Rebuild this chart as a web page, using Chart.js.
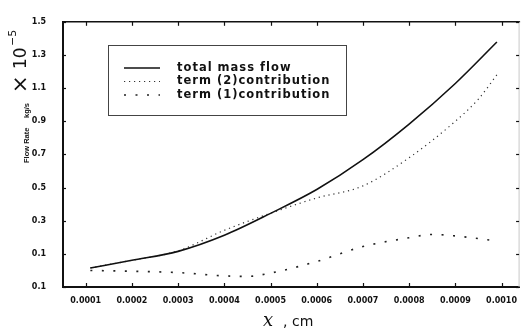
<!DOCTYPE html>
<html>
<head>
<meta charset="utf-8">
<script src="https://cdn.jsdelivr.net/npm/chart.js@4"></script>
<style>
  html, body { margin: 0; padding: 0; background: #fff; }
  #wrap { width: 526px; height: 331px; }
</style>
</head>
<body>
<div id="wrap"><canvas id="flow-chart" width="526" height="331"></canvas></div>
<script>
// === flow rate vs. x ===

const xTicks = [0.0001, 0.0002, 0.0003, 0.0004, 0.0005, 0.0006, 0.0007, 0.0008, 0.0009, 0.0010];
const xTickLabels = ['0.0001', '0.0002', '0.0003', '0.0004', '0.0005', '0.0006', '0.0007', '0.0008', '0.0009', '0.0010'];
const yTicks = [-0.1, 0.1, 0.3, 0.5, 0.7, 0.9, 1.1, 1.3, 1.5];
const yTickLabels = ['0.1', '0.1', '0.3', '0.5', '0.7', '0.9', '1.1', '1.3', '1.5'];

// total mass flow
const totalX = [0.00011, 0.0002, 0.0003, 0.0004, 0.0005, 0.0006, 0.0007, 0.0008, 0.0009, 0.00099];
const totalFlow = [0.015, 0.061, 0.115, 0.212, 0.344, 0.488, 0.668, 0.883, 1.128, 1.378];

// term (2) contribution
const term2X = [0.00011, 0.0002, 0.0003, 0.0004, 0.0005, 0.0006, 0.0007, 0.0008, 0.0009, 0.00095, 0.00099];
const term2Flow = [0.015, 0.061, 0.118, 0.242, 0.345, 0.437, 0.51, 0.68, 0.9, 1.034, 1.18];

// term (1) contribution
const term1X = [0.00011, 0.0002, 0.0003, 0.0004, 0.00045, 0.0005, 0.0006, 0.0007, 0.0008, 0.00085, 0.0009, 0.00099];
const term1Flow = [0.0, -0.005, -0.013, -0.033, -0.036, -0.016, 0.054, 0.144, 0.197, 0.217, 0.208, 0.178];

const legendLabels = ['total mass flow', 'term (2)contribution', 'term (1)contribution'];

const INK = '#111';
const TICK_FONT = { family: '"DejaVu Sans", sans-serif', size: 8, weight: 'bold' };

function points(xs, ys) {
  return xs.map((x, i) => ({ x, y: ys[i] }));
}

function line(ctx, x1, y1, x2, y2) {
  ctx.beginPath();
  ctx.moveTo(x1, y1);
  ctx.lineTo(x2, y2);
  ctx.stroke();
}

// top/right frame edges and the small inward ticks on all four sides
const frameTicks = {
  id: 'frameTicks',
  afterDraw(chart) {
    const { ctx, chartArea: a, scales: { x, y } } = chart;
    ctx.save();
    ctx.strokeStyle = INK;
    ctx.lineWidth = 1.5;
    line(ctx, a.left, a.top, a.right + 1, a.top);
    ctx.strokeStyle = '#c8c8c8';
    ctx.lineWidth = 1;
    line(ctx, a.right, a.top, a.right, a.bottom);

    ctx.strokeStyle = INK;
    ctx.lineWidth = 1.2;
    x.ticks.forEach(t => {
      const px = Math.round(x.getPixelForValue(t.value)) + 0.5;
      line(ctx, px, a.bottom, px, a.bottom - 4);
      line(ctx, px, a.top, px, a.top + 4);
    });
    y.ticks.forEach(t => {
      const py = Math.round(y.getPixelForValue(t.value)) + 0.5;
      line(ctx, a.left, py, a.left + 3, py);
      line(ctx, a.right, py, a.right - 3, py);
    });
    ctx.restore();
  },
};

// boxed legend sitting inside the plot
const boxLegend = {
  id: 'boxLegend',
  afterDraw(chart) {
    const { ctx } = chart;
    const box = { left: 108, top: 45, right: 346, bottom: 115 };
    ctx.save();
    ctx.strokeStyle = '#444';
    ctx.lineWidth = 1;
    ctx.strokeRect(box.left + 0.5, box.top + 0.5, box.right - box.left, box.bottom - box.top);

    ctx.font = 'bold 11.5px "DejaVu Sans", sans-serif';
    ctx.letterSpacing = '1px';
    ctx.textBaseline = 'middle';
    ctx.fillStyle = INK;
    chart.data.datasets.forEach((ds, i) => {
      const rowY = 68 + i * 13.5;
      ctx.strokeStyle = ds.borderColor;
      ctx.lineWidth = ds.borderWidth;
      ctx.setLineDash(ds.borderDash || []);
      line(ctx, 124, rowY, 160, rowY);
      ctx.setLineDash([]);
      ctx.fillText(legendLabels[i], 177, rowY);
    });
    ctx.restore();
  },
};

// rotated y title with the ×10^-5 multiplier, and the x title
const axisTitles = {
  id: 'axisTitles',
  afterDraw(chart) {
    const { ctx, chartArea: a } = chart;
    ctx.save();
    ctx.fillStyle = INK;

    ctx.save();
    ctx.translate(27, 0);
    ctx.rotate(-Math.PI / 2);
    ctx.textBaseline = 'middle';
    ctx.textAlign = 'left';
    ctx.font = 'bold 7.5px "Liberation Sans", Arial, sans-serif';
    ctx.fillText('Flow Rate', -163, 0);
    ctx.fillText('kg/s', -118, 0);
    ctx.font = '21px "DejaVu Sans", sans-serif';
    ctx.fillText('\u00d7', -93, -5);
    ctx.font = '17px "DejaVu Sans", sans-serif';
    ctx.fillText('10', -69, -5);
    ctx.font = '11px "DejaVu Sans", sans-serif';
    ctx.fillText('\u22125', -46, -14);
    ctx.restore();

    const cx = (a.left + a.right) / 2;
    ctx.textBaseline = 'middle';
    ctx.textAlign = 'left';
    ctx.font = 'italic 18px "DejaVu Serif", serif';
    ctx.fillText('x', cx - 28, 321);
    ctx.font = '14px "DejaVu Sans", sans-serif';
    ctx.fillText(', cm', cx - 8, 322);
    ctx.restore();
  },
};

new Chart(document.getElementById('flow-chart'), {
  type: 'line',
  data: {
    datasets: [
      {
        label: legendLabels[0],
        data: points(totalX, totalFlow),
        borderColor: INK,
        borderWidth: 1.6,
        cubicInterpolationMode: 'monotone',
      },
      {
        label: legendLabels[1],
        data: points(term2X, term2Flow),
        borderColor: '#333',
        borderWidth: 1.2,
        borderDash: [1.2, 3.8],
        cubicInterpolationMode: 'monotone',
      },
      {
        label: legendLabels[2],
        data: points(term1X, term1Flow),
        borderColor: '#222',
        borderWidth: 1.6,
        borderDash: [2, 9.5],
        cubicInterpolationMode: 'monotone',
      },
    ],
  },
  options: {
    responsive: false,
    animation: false,
    events: [],
    layout: { padding: { left: 0, right: 1, top: 12, bottom: 0 } },
    elements: { point: { radius: 0 } },
    scales: {
      x: {
        type: 'linear',
        min: 0.0000508,
        max: 0.001038,
        afterBuildTicks(scale) { scale.ticks = xTicks.map(v => ({ value: v })); },
        afterFit(scale) { scale.height = 44; },
        grid: { display: false, drawTicks: false },
        border: { display: true, color: INK, width: 2 },
        ticks: {
          color: INK,
          font: TICK_FONT,
          padding: 9,
          maxRotation: 0,
          autoSkip: false,
          callback: (v, i) => xTickLabels[i],
        },
      },
      y: {
        type: 'linear',
        min: -0.1,
        max: 1.5,
        afterBuildTicks(scale) { scale.ticks = yTicks.map(v => ({ value: v })); },
        afterFit(scale) { scale.width = 63; },
        grid: { display: false, drawTicks: false },
        border: { display: true, color: INK, width: 2 },
        ticks: {
          color: INK,
          font: TICK_FONT,
          padding: 17,
          autoSkip: false,
          callback: (v, i) => yTickLabels[i],
        },
      },
    },
    plugins: {
      legend: { display: false },
      tooltip: { enabled: false },
    },
  },
  plugins: [frameTicks, boxLegend, axisTitles],
});
</script>
</body>
</html>
